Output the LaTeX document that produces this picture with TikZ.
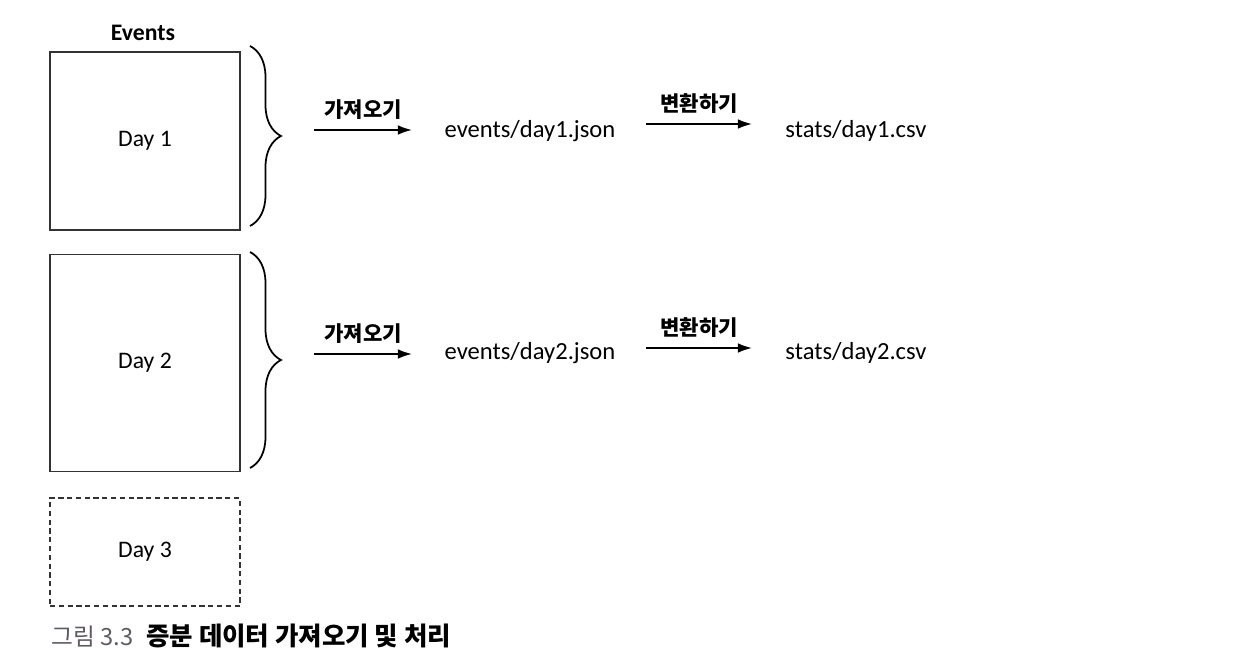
\documentclass[tikz,border=0pt]{standalone}
\usepackage{fontspec}
\setmainfont{Carlito}
\newfontfamily\kr{Noto Sans CJK KR}
\usepackage{xcolor}
\usetikzlibrary{arrows.meta,decorations.pathreplacing}

\definecolor{capgray}{RGB}{95,90,98}

\begin{document}
\begin{tikzpicture}[x=0.02cm, y=-0.02cm,
    daybox/.style={draw=black!80, line width=0.7pt, minimum width=3.8cm, font=\fontsize{13.5}{16}\selectfont},
    filename/.style={anchor=base, font=\fontsize{14}{16}\selectfont},
    verb/.style={above=2pt, font=\kr\bfseries\fontsize{12}{14}\selectfont},
    flow/.style={-{Latex[length=8pt,width=5.5pt]}, line width=1pt},
    daybrace/.style={decorate, decoration={brace, amplitude=0.62cm}, line width=1pt}]
    \useasboundingbox (0,0) rectangle (1242,672);
    % events of each day
    \node[font=\bfseries\fontsize{13.5}{16}\selectfont] (events) at (143,33) {Events};
    \node[daybox, minimum height=3.56cm] (day1) at (145,141) {Day 1};
    \node[daybox, minimum height=4.34cm] (day2) at (145,363) {Day 2};
    \node[daybox, minimum height=2.16cm, dash pattern=on 3pt off 2pt] (day3) at (145,552) {Day 3};
    \draw[daybrace] (250,46) -- (250,226);
    \draw[daybrace] (250,252) -- (250,468);
    % fetch and transform, one row per day
    \foreach \i/\y/\f/\c in {1/138/130/124, 2/360/354/348} {
        \coordinate (fetchA\i) at (314,\f);
        \coordinate (fetchB\i) at (412,\f);
        \node[filename] (json\i) at (530,\y) {events/day\i.json};
        \coordinate (convA\i) at (646,\c);
        \coordinate (convB\i) at (752,\c);
        \node[filename] (csv\i) at (856,\y) {stats/day\i.csv};
        \draw[flow] (fetchA\i) -- node[verb] {가져오기} (fetchB\i);
        \draw[flow] (convA\i) -- node[verb] {변환하기} (convB\i);
    }
    \node[anchor=base west, inner sep=0pt, text=capgray, font=\kr\fontsize{13.5}{16}\selectfont] (capnum) at (51,645) {그림 3.3};
    \node[anchor=base west, inner sep=0pt, font=\kr\bfseries\fontsize{14.5}{16}\selectfont] (captext) at (146,645) {증분 데이터 가져오기 및 처리};
\end{tikzpicture}
\end{document}
